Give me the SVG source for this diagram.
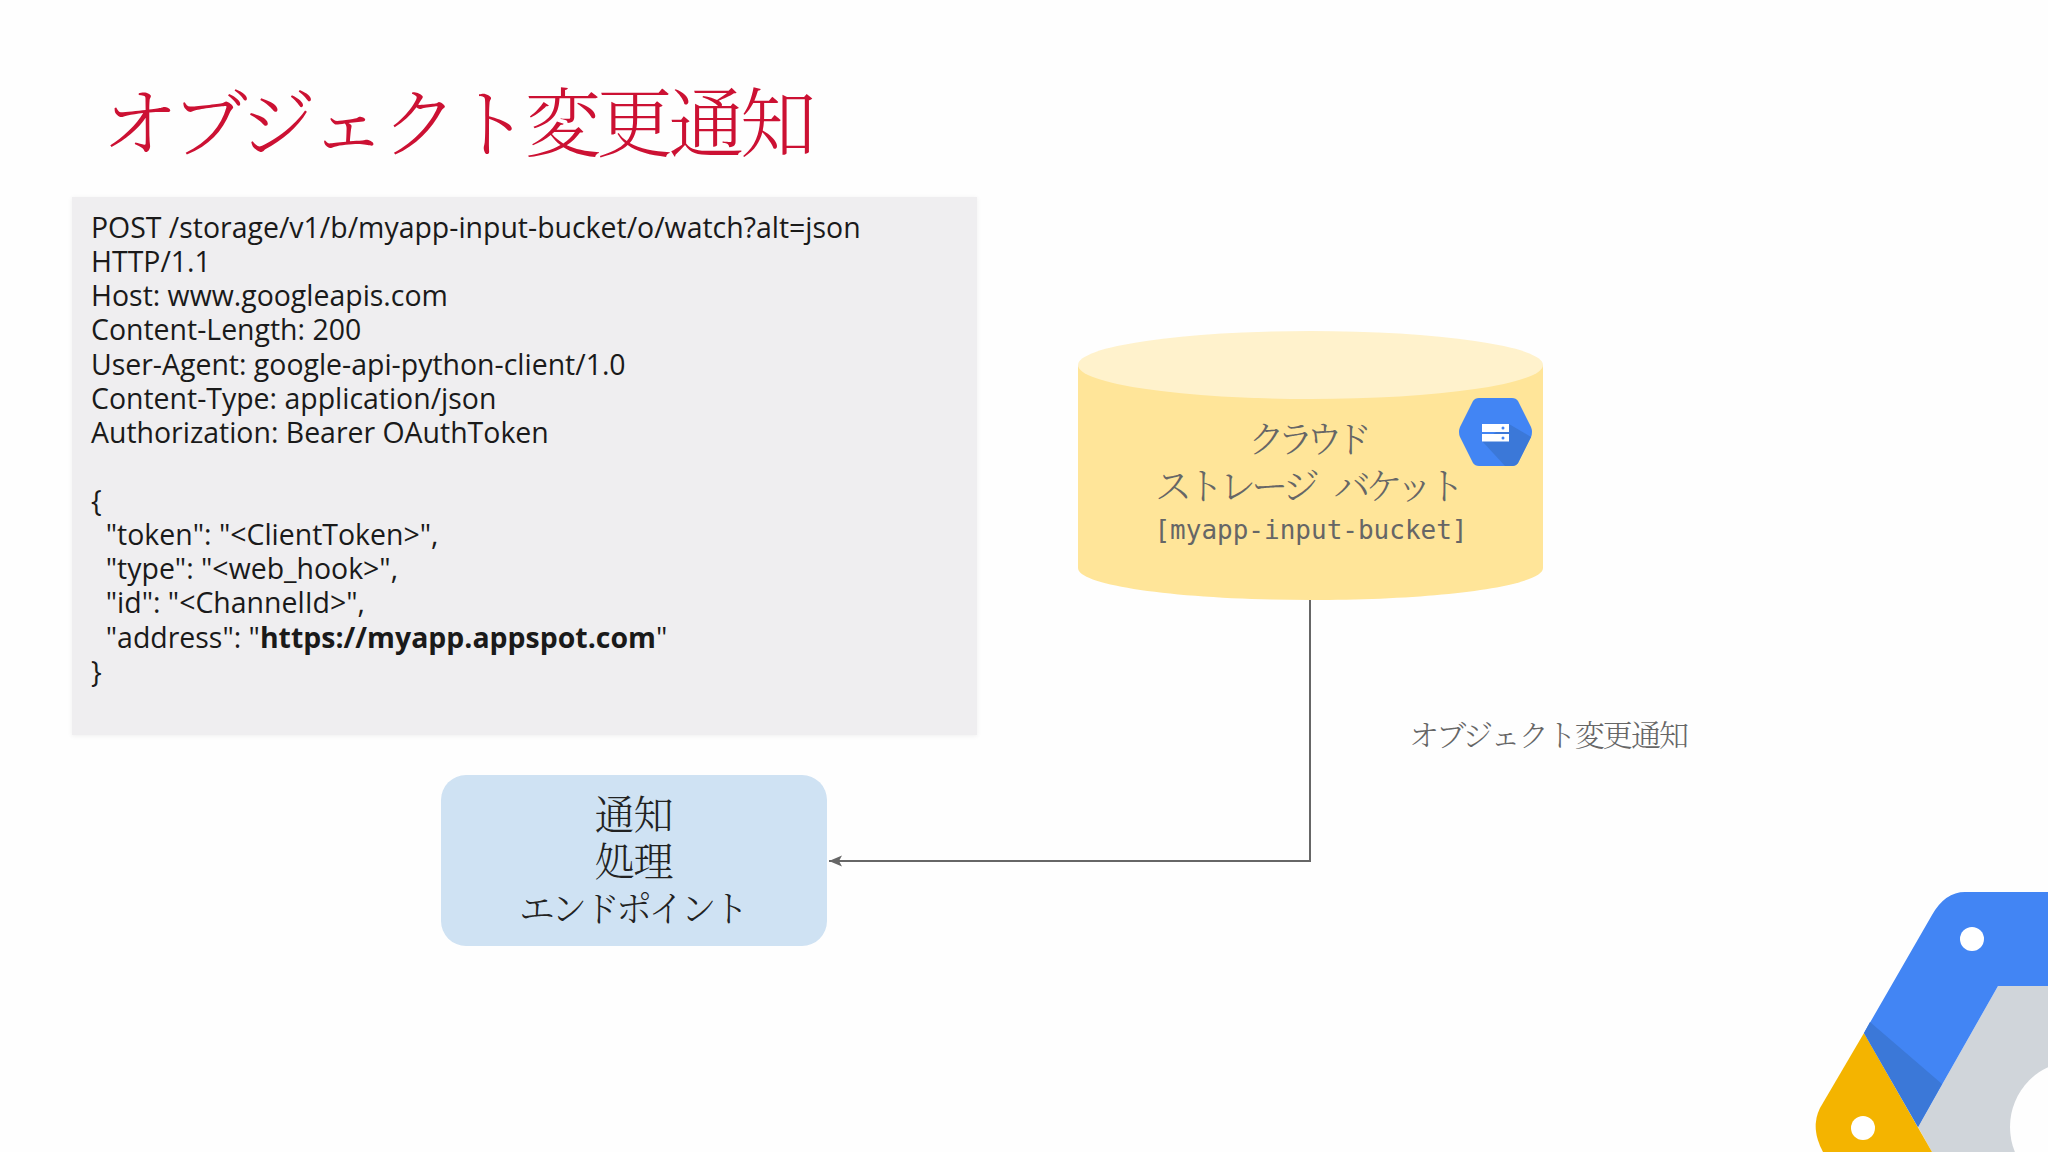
<svg xmlns="http://www.w3.org/2000/svg" width="2048" height="1152" viewBox="0 0 2048 1152">
<style>
.jp{font-family:"Noto Serif CJK JP","Noto Sans CJK JP",serif;font-weight:300;text-anchor:middle}
.code{font-family:"Open Sans",sans-serif;font-size:28.45px;fill:#1a1a1a}
.g{fill:#666}
.k{fill:#222}
</style>
<defs>
<marker id="arrow" markerUnits="userSpaceOnUse" markerWidth="14" markerHeight="12" refX="13" refY="6" orient="auto"><path d="M0 0.5L13 6L0 11.500L3 6Z" fill="#666"/></marker>
<filter id="soft" x="-2%" y="-2%" width="104%" height="104%"><feDropShadow dx="0" dy="1" stdDeviation="2" flood-color="#000" flood-opacity="0.06"/></filter>
</defs>
<rect width="2048" height="1152" fill="#fefefe"/>
<text x="459" y="151" class="jp" font-size="76" fill="#cc1133" textLength="714" lengthAdjust="spacing">オブジェクト変更通知</text>
<g id="request-panel">
<rect x="72" y="197" width="905" height="538" fill="#efeef0" filter="url(#soft)"/>
<text class="code" x="91" y="238">POST /storage/v1/b/myapp-input-bucket/o/watch?alt=json</text>
<text class="code" x="91" y="272">HTTP/1.1</text>
<text class="code" x="91" y="306">Host: www.googleapis.com</text>
<text class="code" x="91" y="340">Content-Length: 200</text>
<text class="code" x="91" y="375">User-Agent: google-api-python-client/1.0</text>
<text class="code" x="91" y="409">Content-Type: application/json</text>
<text class="code" x="91" y="443">Authorization: Bearer OAuthToken</text>
<text class="code" x="91" y="511">{</text>
<text class="code" x="91" y="545" xml:space="preserve">  "token": "&lt;ClientToken&gt;",</text>
<text class="code" x="91" y="579" xml:space="preserve">  "type": "&lt;web_hook&gt;",</text>
<text class="code" x="91" y="613" xml:space="preserve">  "id": "&lt;ChannelId&gt;",</text>
<text class="code" x="91" y="648" xml:space="preserve">  "address": "<tspan font-weight="700">https://myapp.appspot.com</tspan>"</text>
<text class="code" x="91" y="682">}</text>
</g>
<g id="connectors">
<path d="M1310 600V861H829" fill="none" stroke="#666" stroke-width="2" marker-end="url(#arrow)"/>
</g>
<g id="bucket">
<path d="M1078 365V568C1078 586 1182 600 1310.500 600C1439 600 1543 586 1543 568V365Z" fill="#ffe599"/>
<ellipse cx="1310.500" cy="365" rx="232.500" ry="34" fill="#fff2cc"/>
<text class="jp g" x="1310" y="453" font-size="37" textLength="124">クラウド</text>
<text class="jp g" x="1310" y="500" font-size="37" textLength="310" word-spacing="14">ストレージ バケット</text>
<text x="1311" y="539" font-family="DejaVu Sans Mono,monospace" font-size="26" fill="#666" text-anchor="middle">[myapp-input-bucket]</text>
<g id="bucket-icon">
<path d="M1479 398H1512Q1516 398 1518 401L1531 427Q1533 432 1531 437L1518 463Q1516 466 1512 466H1479Q1475 466 1473 463L1460 437Q1458 432 1460 427L1473 401Q1475 398 1479 398Z" fill="#4285f4"/>
<path d="M1509 424L1531 437L1518 463Q1516 466 1512 466H1505L1482 441Z" fill="#3b78d8"/>
<rect x="1482" y="424" width="27" height="8" fill="#fff"/>
<rect x="1482" y="434" width="27" height="7.500" fill="#fff"/>
<circle cx="1503" cy="428" r="1.500" fill="#4285f4"/>
<circle cx="1503" cy="438" r="1.500" fill="#4285f4"/>
</g>
</g>
<g id="endpoint">
<rect x="441" y="775" width="386" height="171" rx="25" fill="#cfe2f3"/>
<text class="jp k" x="634" y="829" font-size="40" textLength="79">通知</text>
<text class="jp k" x="634" y="876" font-size="40" textLength="79">処理</text>
<text class="jp k" x="634" y="922" font-size="36" textLength="230">エンドポイント</text>
</g>
<text class="jp g" x="1549" y="746" font-size="30" textLength="280">オブジェクト変更通知</text>
<g id="logo">
<path d="M1998 986H2048V1152H1932L1918 1127Z" fill="#d0d5da"/>
<circle cx="2076" cy="1127" r="66" fill="#fefefe"/>
<path d="M1864 1033L1932 1152H1823Q1810 1128 1820 1108Z" fill="#f4b400"/>
<path d="M1965 892H2048V986H1998L1918 1127L1864 1033L1932 915Q1945 892 1965 892Z" fill="#4285f4"/>
<path d="M1864 1033L1870 1022L1942 1084L1918 1127Z" fill="#3b78d8"/>
<circle cx="1972" cy="939" r="12" fill="#fff"/>
<circle cx="1863" cy="1128" r="12" fill="#fff"/>
</g>
</svg>
